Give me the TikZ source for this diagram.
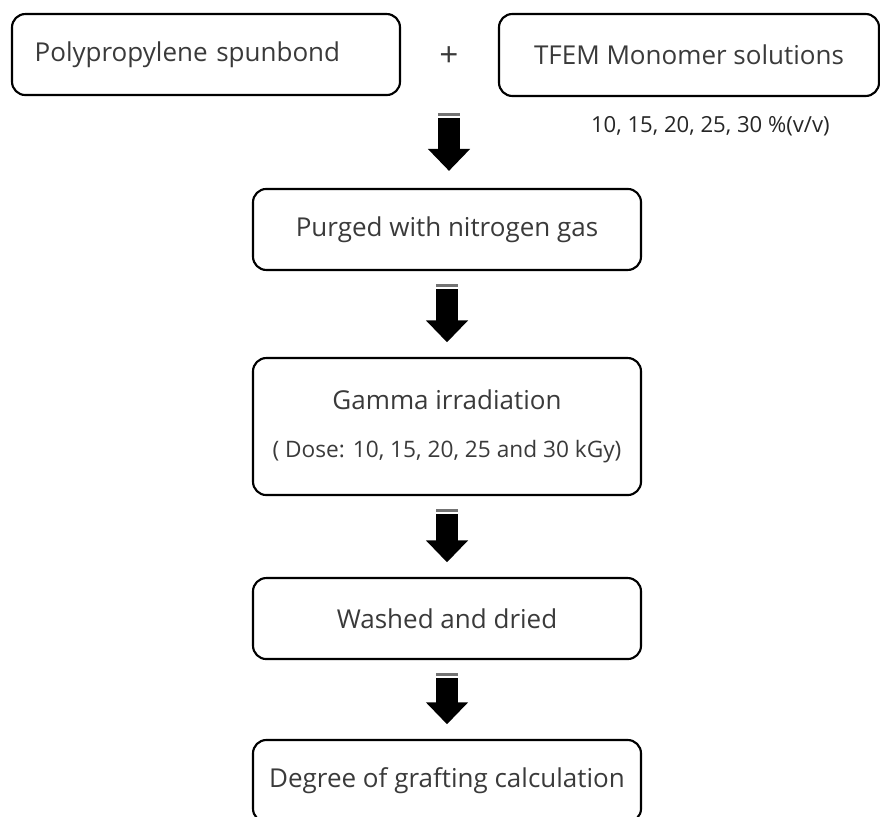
\documentclass[tikz,border=0pt]{standalone}
\usepackage{fontspec}
\setmainfont{Open Sans}
\usepackage{xcolor}
\usepackage{tikz}
\usetikzlibrary{arrows.meta,positioning,calc}
\definecolor{inkgray}{HTML}{3A3A3A}
\tikzset{
  procbox/.style={draw=black,line width=1.6pt,rounded corners=10pt,
    minimum width=291pt,minimum height=60.75pt,align=center,
    font=\fontsize{19.5}{24}\selectfont,text=inkgray},
  plain/.style={inner sep=2pt,align=center,font=\fontsize{25}{30}\selectfont,text=inkgray},
  note/.style={inner sep=2pt,font=\fontsize{16.6}{20}\selectfont,text=black!85},
  fatarrow/.style={-{Triangle[length=16.5pt,width=30.75pt]},line width=16.5pt,draw=black},
  arrowcap/.style={line width=16.5pt,draw=black!55},
}
\begin{document}
\begin{tikzpicture}
  \useasboundingbox (0,0) rectangle (660pt,-612pt);
  % inputs
  \node[procbox,align=left,text width=257pt,inner xsep=17pt] (pp) at (154.5pt,-40.9pt)
    {Polypropylene spunbond};
  \node[plain] (plus) at (336.75pt,-42.75pt) {+};
  \node[procbox,minimum width=285pt,minimum height=61.5pt] (tfem) at (516.75pt,-41.25pt)
    {TFEM Monomer solutions};
  \node[note,below=12pt of tfem,xshift=16pt] (conc) {10, 15, 20, 25, 30 \%(v/v)};
  % process steps
  \node[procbox] (purge) at (335.25pt,-172.1pt) {Purged with nitrogen gas};
  \node[procbox,minimum height=102.75pt] (gamma) at (335.25pt,-319.9pt)
    {Gamma irradiation\\[12pt]\fontsize{17}{20}\selectfont ( Dose: 10, 15, 20, 25 and 30 kGy)};
  \node[procbox] (wash) at (335.25pt,-463.9pt) {Washed and dried};
  \node[procbox,minimum height=61.5pt] (dog) at (335.25pt,-585.75pt)
    {Degree of grafting calculation};
  % block arrows
  \draw[arrowcap] ([yshift=-42pt]plus.center) -- ++(0,-2.25pt);
  \draw[fatarrow,shorten <=45.75pt,shorten >=12.75pt] (plus.center) -- (plus.center |- purge.north);
  \foreach \a/\b in {purge/gamma,gamma/wash,wash/dog}{
    \draw[arrowcap] ([yshift=-9.75pt]\a.south) -- ++(0,-2.25pt);
    \draw[fatarrow,shorten <=13.5pt,shorten >=11pt] (\a.south) -- (\b.north);
  }
\end{tikzpicture}
\end{document}
